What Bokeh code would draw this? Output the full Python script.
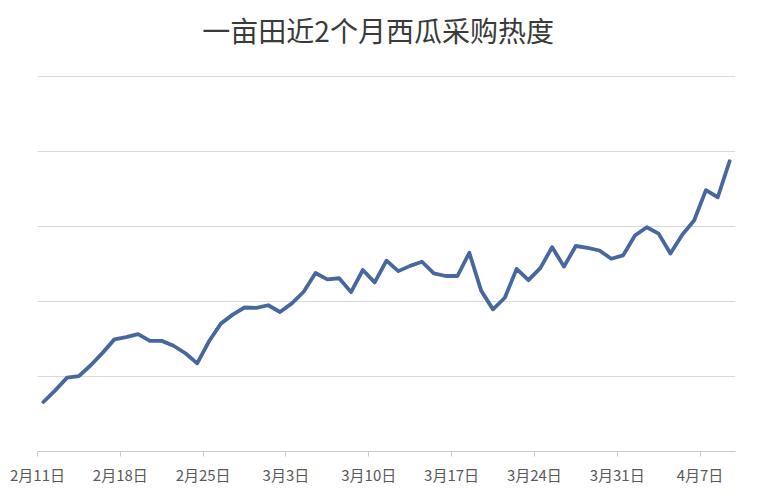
import pandas as pd
from bokeh.plotting import figure
from bokeh.models import Range1d, FixedTicker, ColumnDataSource, Label
from bokeh.embed import file_html
from bokeh.resources import INLINE

title_text = "一亩田近2个月西瓜采购热度"

# dates 2024-02-11 .. 2024-04-09 (daily)
dates = [d.strftime("%-m月%-d日") for d in pd.date_range("2024-02-11", "2024-04-09", freq="D")]

heat = [13.2, 16.3, 19.7, 20.1, 23.0, 26.3, 29.9, 30.5, 31.3, 29.5,
        29.5, 28.2, 26.2, 23.5, 29.4, 34.1, 36.5, 38.4, 38.3, 39.0,
        37.2, 39.5, 42.6, 47.6, 45.9, 46.2, 42.5, 48.4, 45.1, 50.9,
        48.1, 49.5, 50.6, 47.5, 46.8, 46.8, 53.0, 42.9, 37.9, 41.0,
        48.7, 45.7, 48.9, 54.5, 49.3, 54.8, 54.3, 53.6, 51.4, 52.3,
        57.6, 59.8, 58.1, 52.8, 57.8, 61.6, 69.7, 67.8, 77.4]

tick_labels = ["2月11日", "2月18日", "2月25日", "3月3日", "3月10日",
               "3月17日", "3月24日", "3月31日", "4月7日"]
grid_values = [0, 20, 40, 60, 80, 100]

n = len(heat)
xpos = [i + 0.5 for i in range(n)]          # each day centred in its slot
tick_pos = [dates.index(t) for t in tick_labels]  # slot boundaries

src = ColumnDataSource(dict(x=xpos, y=heat, d=dates))

FRAME_H = 441
GRID_H = 375  # pixel height of the 0..100 gridded area
y_top = grid_values[-1] * FRAME_H / GRID_H   # headroom above the top gridline holds the title

p = figure(width=741, height=484, output_backend="svg", toolbar_location=None,
           x_range=Range1d(0, n), y_range=Range1d(grid_values[0], y_top),
           min_border_left=37, min_border_right=6, min_border_top=10,
           min_border_bottom=33, frame_width=698, frame_height=FRAME_H)
p.outline_line_color = None
p.background_fill_color = "white"
p.border_fill_color = "white"

p.line("x", "y", source=src, line_color="#46689F", line_width=3.8,
       line_join="round", line_cap="round")

p.yaxis.visible = False
p.xgrid.visible = False
p.ygrid.ticker = FixedTicker(ticks=grid_values[1:])
p.ygrid.grid_line_color = "#D9D9D9"
p.ygrid.grid_line_width = 1

xa = p.xaxis[0]
xa.ticker = FixedTicker(ticks=tick_pos)
xa.major_label_overrides = {pos: lab for pos, lab in zip(tick_pos, tick_labels)}
xa.minor_tick_line_color = None
xa.axis_line_color = "#C8C8C8"
xa.major_tick_line_color = "#C8C8C8"
xa.major_tick_in = 0
xa.major_tick_out = 5
xa.major_label_standoff = 7
xa.major_label_text_font = "Noto Sans CJK SC"
xa.major_label_text_font_size = "15px"
xa.major_label_text_color = "#595959"

p.add_layout(Label(x=n * 0.488, y=y_top * 0.956, text=title_text,
                   text_align="center", text_baseline="middle",
                   text_font="Noto Sans CJK SC", text_font_size="28px",
                   text_color="#3A3A3A"))

open("out.html", "w").write(file_html(p, INLINE))
